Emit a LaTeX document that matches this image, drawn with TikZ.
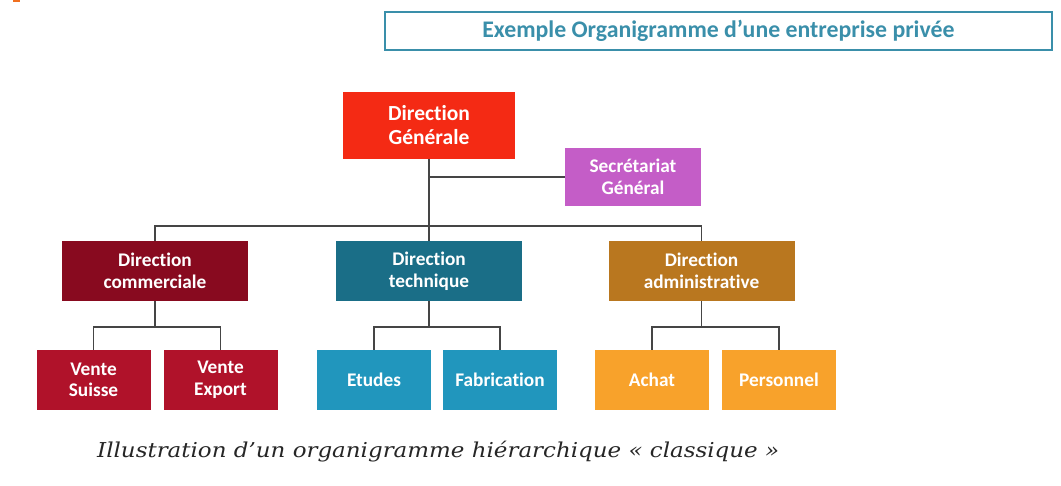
\documentclass[tikz,border=0pt]{standalone}
\usepackage{fontspec}
\setmainfont{Carlito}[Ligatures=NoCommon]
\newfontfamily\capfont{DejaVu Serif}[FakeStretch=1.12]
\definecolor{linegray}{HTML}{454545}
\definecolor{titleblue}{HTML}{3A8FAA}
\definecolor{dgred}{HTML}{F42A14}
\definecolor{sgviolet}{HTML}{C45DC7}
\definecolor{comred}{HTML}{880A1F}
\definecolor{venred}{HTML}{B0122A}
\definecolor{techblue}{HTML}{1A6E87}
\definecolor{etublue}{HTML}{2196BD}
\definecolor{admbrown}{HTML}{B9771F}
\definecolor{achorange}{HTML}{F8A22B}
\definecolor{markorange}{HTML}{F07020}
\begin{document}
\begin{tikzpicture}[x=1pt,y=-1pt,
  box/.style={draw=none, inner sep=0pt, align=center, text=white,
    font=\bfseries\fontsize{19.3}{21.5}\selectfont},
  bigbox/.style={box, font=\bfseries\fontsize{21.5}{24}\selectfont},
  midbox/.style={box, minimum width=186pt, minimum height=60pt},
  leafbox/.style={box, minimum width=114pt, minimum height=60pt},
  link/.style={draw=linegray, line width=1.8pt}]
\path[use as bounding box] (0,0) rectangle (1061,485);
\fill[markorange] (13,0) rectangle (20,2);
% title
\node[draw=titleblue, line width=1.2pt, minimum width=667pt, minimum height=38pt,
  inner sep=0pt, text=titleblue, font=\bfseries\fontsize{23.8}{26}\selectfont]
  (title) at (718.5,31) {Exemple Organigramme d’une entreprise privée};
% top
\node[bigbox, fill=dgred, minimum width=172pt, minimum height=67pt] (dg) at (429,125.5) {Direction\\Générale};
\node[box, fill=sgviolet, minimum width=136pt, minimum height=58pt] (sg) at (633,177) {Secrétariat\\Général};
% middle
\node[midbox, fill=comred] (com) at (155,271) {Direction\\commerciale};
\node[midbox, fill=techblue] (tech) at (429,271) {Direction\\technique};
\node[midbox, fill=admbrown] (adm) at (701.5,271) {Direction\\administrative};
% leaves
\node[leafbox, fill=venred] (vs) at (93.5,380) {Vente\\Suisse};
\node[leafbox, fill=venred] (ve) at (220.5,380) {Vente\\Export};
\node[leafbox, fill=etublue] (etu) at (374,380) {Etudes};
\node[leafbox, fill=etublue] (fab) at (500,380) {Fabrication};
\node[leafbox, fill=achorange] (ach) at (652,380) {Achat};
\node[leafbox, fill=achorange] (per) at (779,380) {Personnel};
% connectors
\coordinate (bus) at (429,226);
\draw[link] (dg.south) -- (tech.north);
\draw[link] (dg.south |- sg.west) -- (sg.west);
\draw[link] (com.north) |- (bus) -| (adm.north);
\draw[link] (com.south) -- ++(0,26) coordinate (cm);
\draw[link] (vs.north) |- (cm) -| (ve.north);
\draw[link] (tech.south) -- ++(0,26) coordinate (tm);
\draw[link] (etu.north) |- (tm) -| (fab.north);
\draw[link] (adm.south) -- ++(0,26) coordinate (am);
\draw[link] (ach.north) |- (am) -| (per.north);
% caption
\node[anchor=west, inner sep=0pt, text=black!85, font=\capfont\itshape\fontsize{20.5}{24}\selectfont]
  (cap) at (97,452) {Illustration d’un organigramme hiérarchique «~classique~»};
\end{tikzpicture}
\end{document}
